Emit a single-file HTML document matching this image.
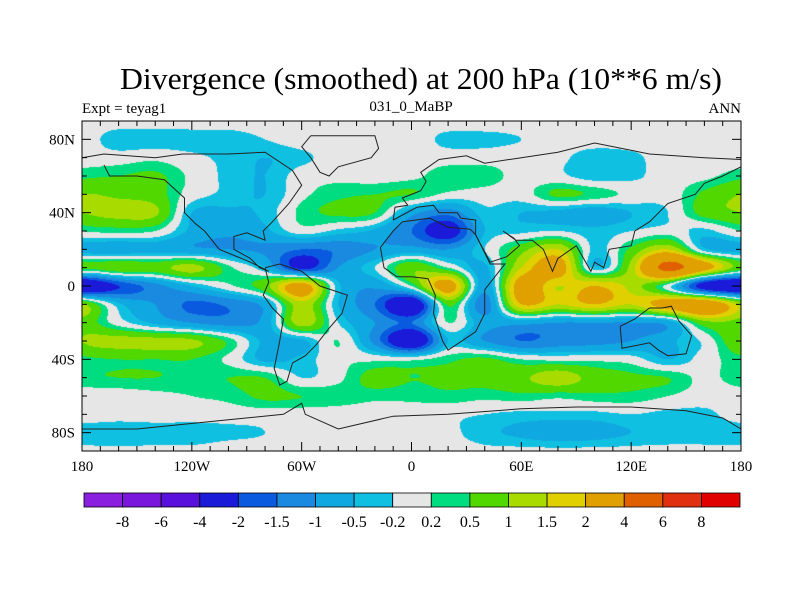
<!DOCTYPE html>
<html><head><meta charset="utf-8">
<style>
body{margin:0;background:#fff;}
#wrap{position:relative;width:800px;height:600px;overflow:hidden;background:#fff;}
canvas{position:absolute;left:82px;top:121px;}
svg{position:absolute;left:0;top:0;}
text{font-family:"Liberation Serif",serif;fill:#000;}
</style></head>
<body>
<div id="wrap">
<canvas id="map" width="659" height="330"></canvas>
<svg id="ov" width="800" height="600">
<text x="421" y="89" text-anchor="middle" font-size="31" textLength="602" lengthAdjust="spacingAndGlyphs">Divergence (smoothed) at 200 hPa (10**6 m/s)</text>
<text x="82" y="113" font-size="15">Expt = teyag1</text>
<text x="411" y="111" font-size="15" text-anchor="middle">031_0_MaBP</text>
<text x="741" y="113" font-size="15" text-anchor="end">ANN</text>
</svg>
</div>
<script>
const levels=[-8,-6,-4,-2,-1.5,-1,-0.5,-0.2,0.2,0.5,1,1.5,2,4,6,8];
const colors=['#8a1fe0','#7a17dc','#5a10dc','#1a1ad8','#0a5ae0','#1a8ae0','#10a8e0','#10c0e0','#e6e6e6','#00dc80','#50d800','#a8dc00','#e0d000','#e0a000','#e06000','#e03010','#e00000'];
const lonTicks=[-180,-120,-60,0,60,120,180];
const lonLabels=['180','120W','60W','0','60E','120E','180'];
const latTicks=[80,40,0,-40,-80];
const latLabels=['80N','40N','0','40S','80S'];
const gridLons=[-180,-160,-140,-120,-100,-80,-60,-40,-20,0,20,40,60,80,100,120,140,160];
const gridLats=[90,80,70,60,50,40,30,20,10,0,-10,-20,-30,-40,-50,-60,-70,-80,-90];
const r90=[0,0,0,0,0,0,0,0,0,0,0,0,0,0,0,0,0,0];
const r80=[0,-0.4,-0.4,-0.4,-0.4,-0.2,0,0,0,0,-0.3,-0.3,-0.2,0,0,0,0,0];
const r70=[0,0,0.1,-0.1,-0.3,-0.5,-0.3,0,0,0,0,0,0,-0.1,-0.4,-0.3,0,0];
const r60=[0.4,0.5,0.6,0.1,-0.3,-0.5,0,0.1,0,0.1,0.4,0.4,0,-0.1,-0.4,-0.3,0,0.1];
const r50=[1.0,0.9,0.7,0,-0.3,-0.5,0.1,0.4,0.5,0.5,0.1,0,0,0.6,0.4,0.1,0,0.6];
const r40=[1.0,1.2,1.1,-0.5,-0.6,-0.4,0.3,0.6,0.5,-0.8,-1.3,-0.3,-0.5,-0.6,-0.8,-0.5,-0.2,0.7];
const r30=[0.2,0.3,0.2,-0.6,-0.9,-0.6,0,-0.3,-0.6,-1.5,-2.5,-0.5,-0.3,-0.2,-0.4,-0.2,0,-0.3];
const r20=[-0.7,-0.8,-0.7,-0.9,-1.0,-1.1,-1.5,-1.4,-1.0,-0.8,-1.0,-0.2,0.8,1.5,-0.3,0.6,1.5,-0.4];
const r10=[0.7,0.9,0.8,1.2,0.3,-0.5,-2.2,-1.0,-0.2,0.9,0.2,-0.6,1.5,2.5,-0.4,1.2,4.5,2.5];
const r0=[-3,-2,-1.2,-0.5,0.1,0.8,2.5,-0.4,-0.9,0.2,2.5,-0.8,2.5,1.5,2.0,1.3,0,-2.5];
const rS10=[1.2,-0.4,-1.0,-1.6,-1.4,-0.8,1.3,-0.5,-1.5,-3,0.6,-1.3,2.0,1.5,2.0,1.5,2.5,3];
const rS20=[0.8,0,-0.6,-1.0,-1.2,-0.8,1.3,-0.2,-1.0,-1.5,0.2,-0.8,-0.8,-1.0,-1.0,-1.0,-0.8,0.8];
const rS30=[1.0,1.2,1.2,1.1,0.4,-0.6,-0.6,0.2,-1.2,-3,-0.5,-1.0,-1.5,-1.3,-1.2,-1.0,-0.6,-0.1];
const rS40=[0.4,0.5,0.5,0.5,0.1,-0.6,-0.4,0.1,0.1,0.1,0.4,0.6,0.2,0.1,0.1,0,-0.5,0];
const rS50=[0.4,0.5,0.5,0.4,0.5,0.5,-0.2,0.1,0.7,0.5,0.6,0.7,0.9,1.3,0.8,0.6,0.5,0.1];
const rS60=[0,0,0.1,0.2,0.3,0.6,0.5,0.4,0.3,0.3,0.4,0.3,0.4,0.3,0.4,0.4,0.2,0];
const rS70=[0,0,0,0,0,0,0,0,0,0,-0.1,-0.2,-0.3,-0.3,-0.3,-0.2,-0.3,-0.3];
const rS80=[-0.4,-0.5,-0.4,-0.4,-0.3,-0.2,0,0,0,0,-0.1,-0.4,-0.6,-0.8,-0.7,-0.5,-0.4,-0.4];
const rS90=[-0.1,-0.1,-0.1,-0.1,0,0,0,0,0,0,0,-0.1,-0.1,-0.1,-0.1,-0.1,-0.1,-0.1];
const grid=[r90,r80,r70,r60,r50,r40,r30,r20,r10,r0,rS10,rS20,rS30,rS40,rS50,rS60,rS70,rS80,rS90];

// simplified coastlines (lon,lat)
const northAmerica=[[-180,70],[-168,72],[-155,71],[-140,70],[-125,72],[-100,72],[-80,73],[-65,63],[-60,55],[-67,45],[-76,35],[-81,30],[-80,25],[-90,29],[-97,27],[-97,20],[-88,15],[-83,10],[-78,8],[-88,13],[-105,20],[-113,30],[-118,34],[-124,40],[-124,48],[-135,58],[-150,60],[-165,60],[-168,66]];
const greenland=[[-55,82],[-20,82],[-18,75],[-22,70],[-40,65],[-45,60],[-50,62],[-55,70],[-60,76],[-55,82]];
const southAmerica=[[-80,10],[-72,12],[-60,8],[-50,0],[-35,-5],[-38,-15],[-45,-23],[-52,-32],[-58,-38],[-65,-42],[-68,-52],[-72,-54],[-75,-45],[-72,-30],[-70,-18],[-76,-12],[-81,-5],[-78,2],[-80,10]];
const africa=[[-17,21],[-10,30],[-5,35],[10,37],[20,32],[32,31],[35,28],[43,12],[51,12],[40,-2],[40,-15],[35,-25],[20,-35],[17,-30],[12,-15],[13,-5],[9,4],[0,5],[-8,5],[-15,10],[-17,21]];
const eurasia=[[-10,36],[-9,43],[-2,44],[-5,48],[5,52],[8,57],[5,62],[15,69],[30,71],[40,67],[60,70],[80,73],[100,78],[130,72],[160,70],[180,69]];
const asiaSouth=[[180,65],[170,60],[160,56],[155,50],[140,45],[130,35],[122,30],[120,22],[108,20],[105,10],[100,13],[98,8],[90,22],[80,15],[77,8],[72,20],[66,25],[57,25],[50,30],[56,26],[59,22],[52,16],[43,13],[35,28],[35,36],[27,37],[25,40],[15,40],[12,44],[3,43],[-10,36]];
const australia=[[114,-22],[122,-18],[130,-12],[137,-12],[142,-11],[146,-19],[153,-27],[150,-37],[140,-38],[135,-35],[130,-31],[115,-34],[114,-22]];
const antarctica=[[-180,-78],[-150,-78],[-100,-73],[-70,-70],[-60,-64],[-58,-70],[-40,-78],[-10,-71],[20,-70],[60,-67],[90,-66],[120,-66],[150,-68],[170,-72],[180,-78]];
const coasts=[northAmerica,greenland,southAmerica,africa,eurasia,asiaSouth,australia,antarctica];

const X0=82,X1=741,Y0=121,Y1=451;
function xScale(lon){return X0+(lon+180)/360*(X1-X0);}
function yScale(lat){return Y0+(90-lat)/180*(Y1-Y0);}
function hex(c){return [parseInt(c.substr(1,2),16),parseInt(c.substr(3,2),16),parseInt(c.substr(5,2),16)];}
const rgb=colors.map(hex);
function cr(p0,p1,p2,p3,t){return 0.5*((2*p1)+(-p0+p2)*t+(2*p0-5*p1+4*p2-p3)*t*t+(-p0+3*p1-3*p2+p3)*t*t*t);}
const nc=gridLons.length,nr=gridLats.length;
function g(r,c){r=Math.max(0,Math.min(nr-1,r));c=((c%nc)+nc)%nc;return grid[r][c];}
function sample(lon,lat){
  const fc=(lon-gridLons[0])/20, fr=(gridLats[0]-lat)/10;
  const c=Math.floor(fc), r=Math.floor(fr), tc=fc-c, tr=fr-r;
  const rows=[];
  for(let k=-1;k<=2;k++){rows.push(cr(g(r+k,c-1),g(r+k,c),g(r+k,c+1),g(r+k,c+2),tc));}
  return cr(rows[0],rows[1],rows[2],rows[3],tr);
}
const cv=document.getElementById('map');const ctx=cv.getContext('2d');
const W=cv.width,H=cv.height;const img=ctx.createImageData(W,H);
for(let y=0;y<H;y++){for(let x=0;x<W;x++){
  const lon=(x+0.5)/W*360-180, lat=90-(y+0.5)/H*180;
  const v=sample(lon,lat);let i=0;while(i<levels.length&&v>=levels[i])i++;
  const p=(y*W+x)*4;img.data[p]=rgb[i][0];img.data[p+1]=rgb[i][1];img.data[p+2]=rgb[i][2];img.data[p+3]=255;}}
ctx.putImageData(img,0,0);

const NS='http://www.w3.org/2000/svg';const svg=document.getElementById('ov');
function mk(tag,attrs){const e=document.createElementNS(NS,tag);for(const k in attrs)e.setAttribute(k,attrs[k]);svg.appendChild(e);return e;}
coasts.forEach(pts=>{const d=pts.map((p,i)=>(i?'L':'M')+xScale(p[0]).toFixed(1)+' '+yScale(p[1]).toFixed(1)).join(' ');
  const pa=mk('path',{d:d,fill:'none',stroke:'#222','stroke-width':1});
  
  });
const frame=mk('rect',{x:X0,y:Y0,width:X1-X0,height:Y1-Y0,fill:'none',stroke:'#000','stroke-width':1});


for(let lon=-180;lon<=180;lon+=10){const x=xScale(lon);const len=(lon%60===0)?9:5;
  const t1=mk('line',{x1:x,y1:Y0,x2:x,y2:Y0+len,stroke:'#000'});
  
  
  const t2=mk('line',{x1:x,y1:Y1,x2:x,y2:Y1-len,stroke:'#000'});
  
  }
for(let lat=-90;lat<=90;lat+=10){const y=yScale(lat);const len=(lat%40===0&&Math.abs(lat)<90)?9:5;
  const t1=mk('line',{x1:X0,y1:y,x2:X0+len,y2:y,stroke:'#000'});
  
  
  const t2=mk('line',{x1:X1,y1:y,x2:X1-len,y2:y,stroke:'#000'});
  
  }
lonTicks.forEach((lon,i)=>{const t=mk('text',{x:xScale(lon),y:471,'text-anchor':'middle','font-size':15});t.textContent=lonLabels[i];
  
  });
latTicks.forEach((lat,i)=>{const t=mk('text',{x:75,y:yScale(lat)+5,'text-anchor':'end','font-size':15});t.textContent=latLabels[i];
  
  });
const CB0=84,CB1=740,CBY=493,CBH=14;const bw=(CB1-CB0)/colors.length;
colors.forEach((c,i)=>{const r=mk('rect',{x:CB0+i*bw,y:CBY,width:bw,height:CBH,fill:c,stroke:'#000','stroke-width':0.8});
  
  });
levels.forEach((lv,i)=>{const t=mk('text',{x:CB0+(i+1)*bw,y:527,'text-anchor':'middle','font-size':16});t.textContent=String(lv);
  
  });
</script>
</body></html>
